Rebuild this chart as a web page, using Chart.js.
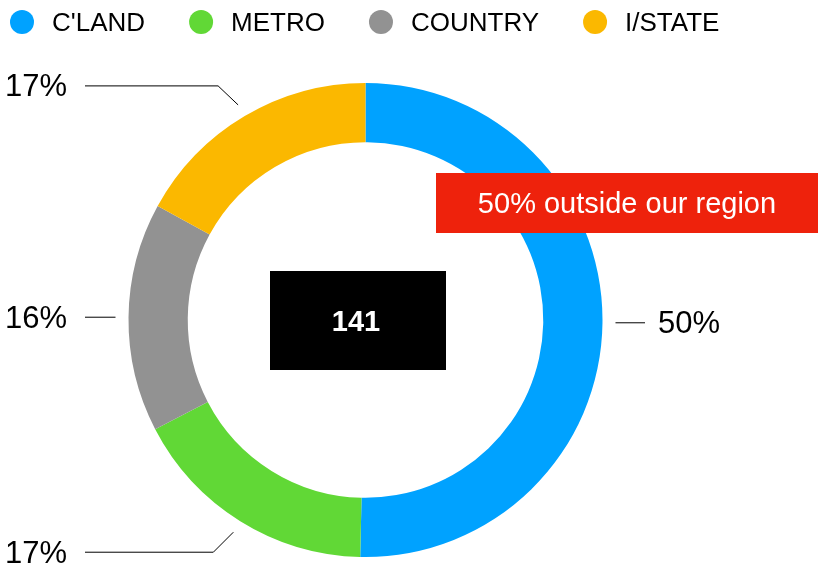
<!DOCTYPE html>
<html>
<head>
<meta charset="utf-8">
<script src="https://cdn.jsdelivr.net/npm/chart.js@4.4.1/dist/chart.umd.min.js"></script>
<style>
  html, body { margin: 0; padding: 0; background: #fff; }
  #wrap { width: 818px; height: 572px; position: relative; }
</style>
</head>
<body>
<div id="wrap"><canvas id="ringChart"></canvas></div>
<script>
// data
var labels = ["C'LAND", 'METRO', 'COUNTRY', 'I/STATE'];
var counts = [71, 24, 22, 24];
var colors = ['#00A2FF', '#61D836', '#929292', '#FBB800'];
var calloutText = '50% outside our region';

var FONT = "'Liberation Sans', Arial, sans-serif";

// legend, leader lines, percent labels and the two boxes
var extras = {
    id: 'extras',
    afterDraw: function (chart) {
        var ctx = chart.ctx;
        var meta = chart.getDatasetMeta(0);
        var total = counts.reduce(function (a, b) { return a + b; }, 0);

        ctx.save();

        // legend
        ctx.font = '26px ' + FONT;
        ctx.textBaseline = 'middle';
        ctx.textAlign = 'left';
        var x = 10;
        labels.forEach(function (lab, i) {
            ctx.fillStyle = colors[i];
            ctx.beginPath();
            ctx.arc(x + 12, 22, 12, 0, Math.PI * 2);
            ctx.fill();
            ctx.fillStyle = '#000';
            ctx.fillText(lab, x + 42, 24);
            x += 42 + ctx.measureText(lab).width + 44;
        });

        // percent labels with leader lines
        ctx.font = '31px ' + FONT;
        ctx.strokeStyle = '#000';
        ctx.lineWidth = 1;
        meta.data.forEach(function (arc, i) {
            var mid = (arc.startAngle + arc.endAngle) / 2;
            var r = arc.outerRadius + 13;
            var px = arc.x + Math.cos(mid) * r;
            var py = arc.y + Math.sin(mid) * r;
            var txt = Math.round(counts[i] / total * 100) + '%';
            var left = Math.cos(mid) < 0;
            var pts = [[px, py]];
            var dy = Math.sin(mid);
            if (Math.abs(dy) > 0.3) {
                var ex = px + (left ? -20 : 20);
                var ey = py + (dy < 0 ? -19 : 20);
                pts.push([ex, ey]);
                py = ey;
            }
            var endX = left ? 85 : 645;
            pts.push([endX, py]);
            ctx.beginPath();
            ctx.moveTo(pts[0][0], pts[0][1]);
            for (var k = 1; k < pts.length; k++) ctx.lineTo(pts[k][0], pts[k][1]);
            ctx.stroke();
            ctx.fillStyle = '#000';
            ctx.textAlign = left ? 'right' : 'left';
            ctx.fillText(txt, left ? endX - 18 : endX + 13, py + 2);
        });

        // centre box with the total
        ctx.fillStyle = '#000';
        ctx.fillRect(270, 271, 176, 99);
        ctx.fillStyle = '#fff';
        ctx.font = 'bold 29px ' + FONT;
        ctx.textAlign = 'center';
        ctx.fillText(String(total), 356, 323);

        // red callout
        ctx.fillStyle = '#EE220C';
        ctx.fillRect(436, 173, 382, 60);
        ctx.fillStyle = '#fff';
        ctx.font = '29px ' + FONT;
        ctx.fillText(calloutText, 627, 205);

        ctx.restore();
    }
};

var ctx = document.getElementById('ringChart').getContext('2d');
var ringChart = new Chart(ctx, {
    type: 'doughnut',
    data: {
        labels: labels,
        datasets: [{
            data: counts,
            backgroundColor: colors,
            borderWidth: 0
        }]
    },
    options: {
        responsive: true,
        maintainAspectRatio: false,
        animation: false,
        cutout: '75%',
        layout: { padding: { top: 83, bottom: 15, left: 128, right: 215 } },
        plugins: {
            legend: { display: false },
            tooltip: { enabled: false }
        }
    },
    plugins: [extras]
});
</script>
</body>
</html>
